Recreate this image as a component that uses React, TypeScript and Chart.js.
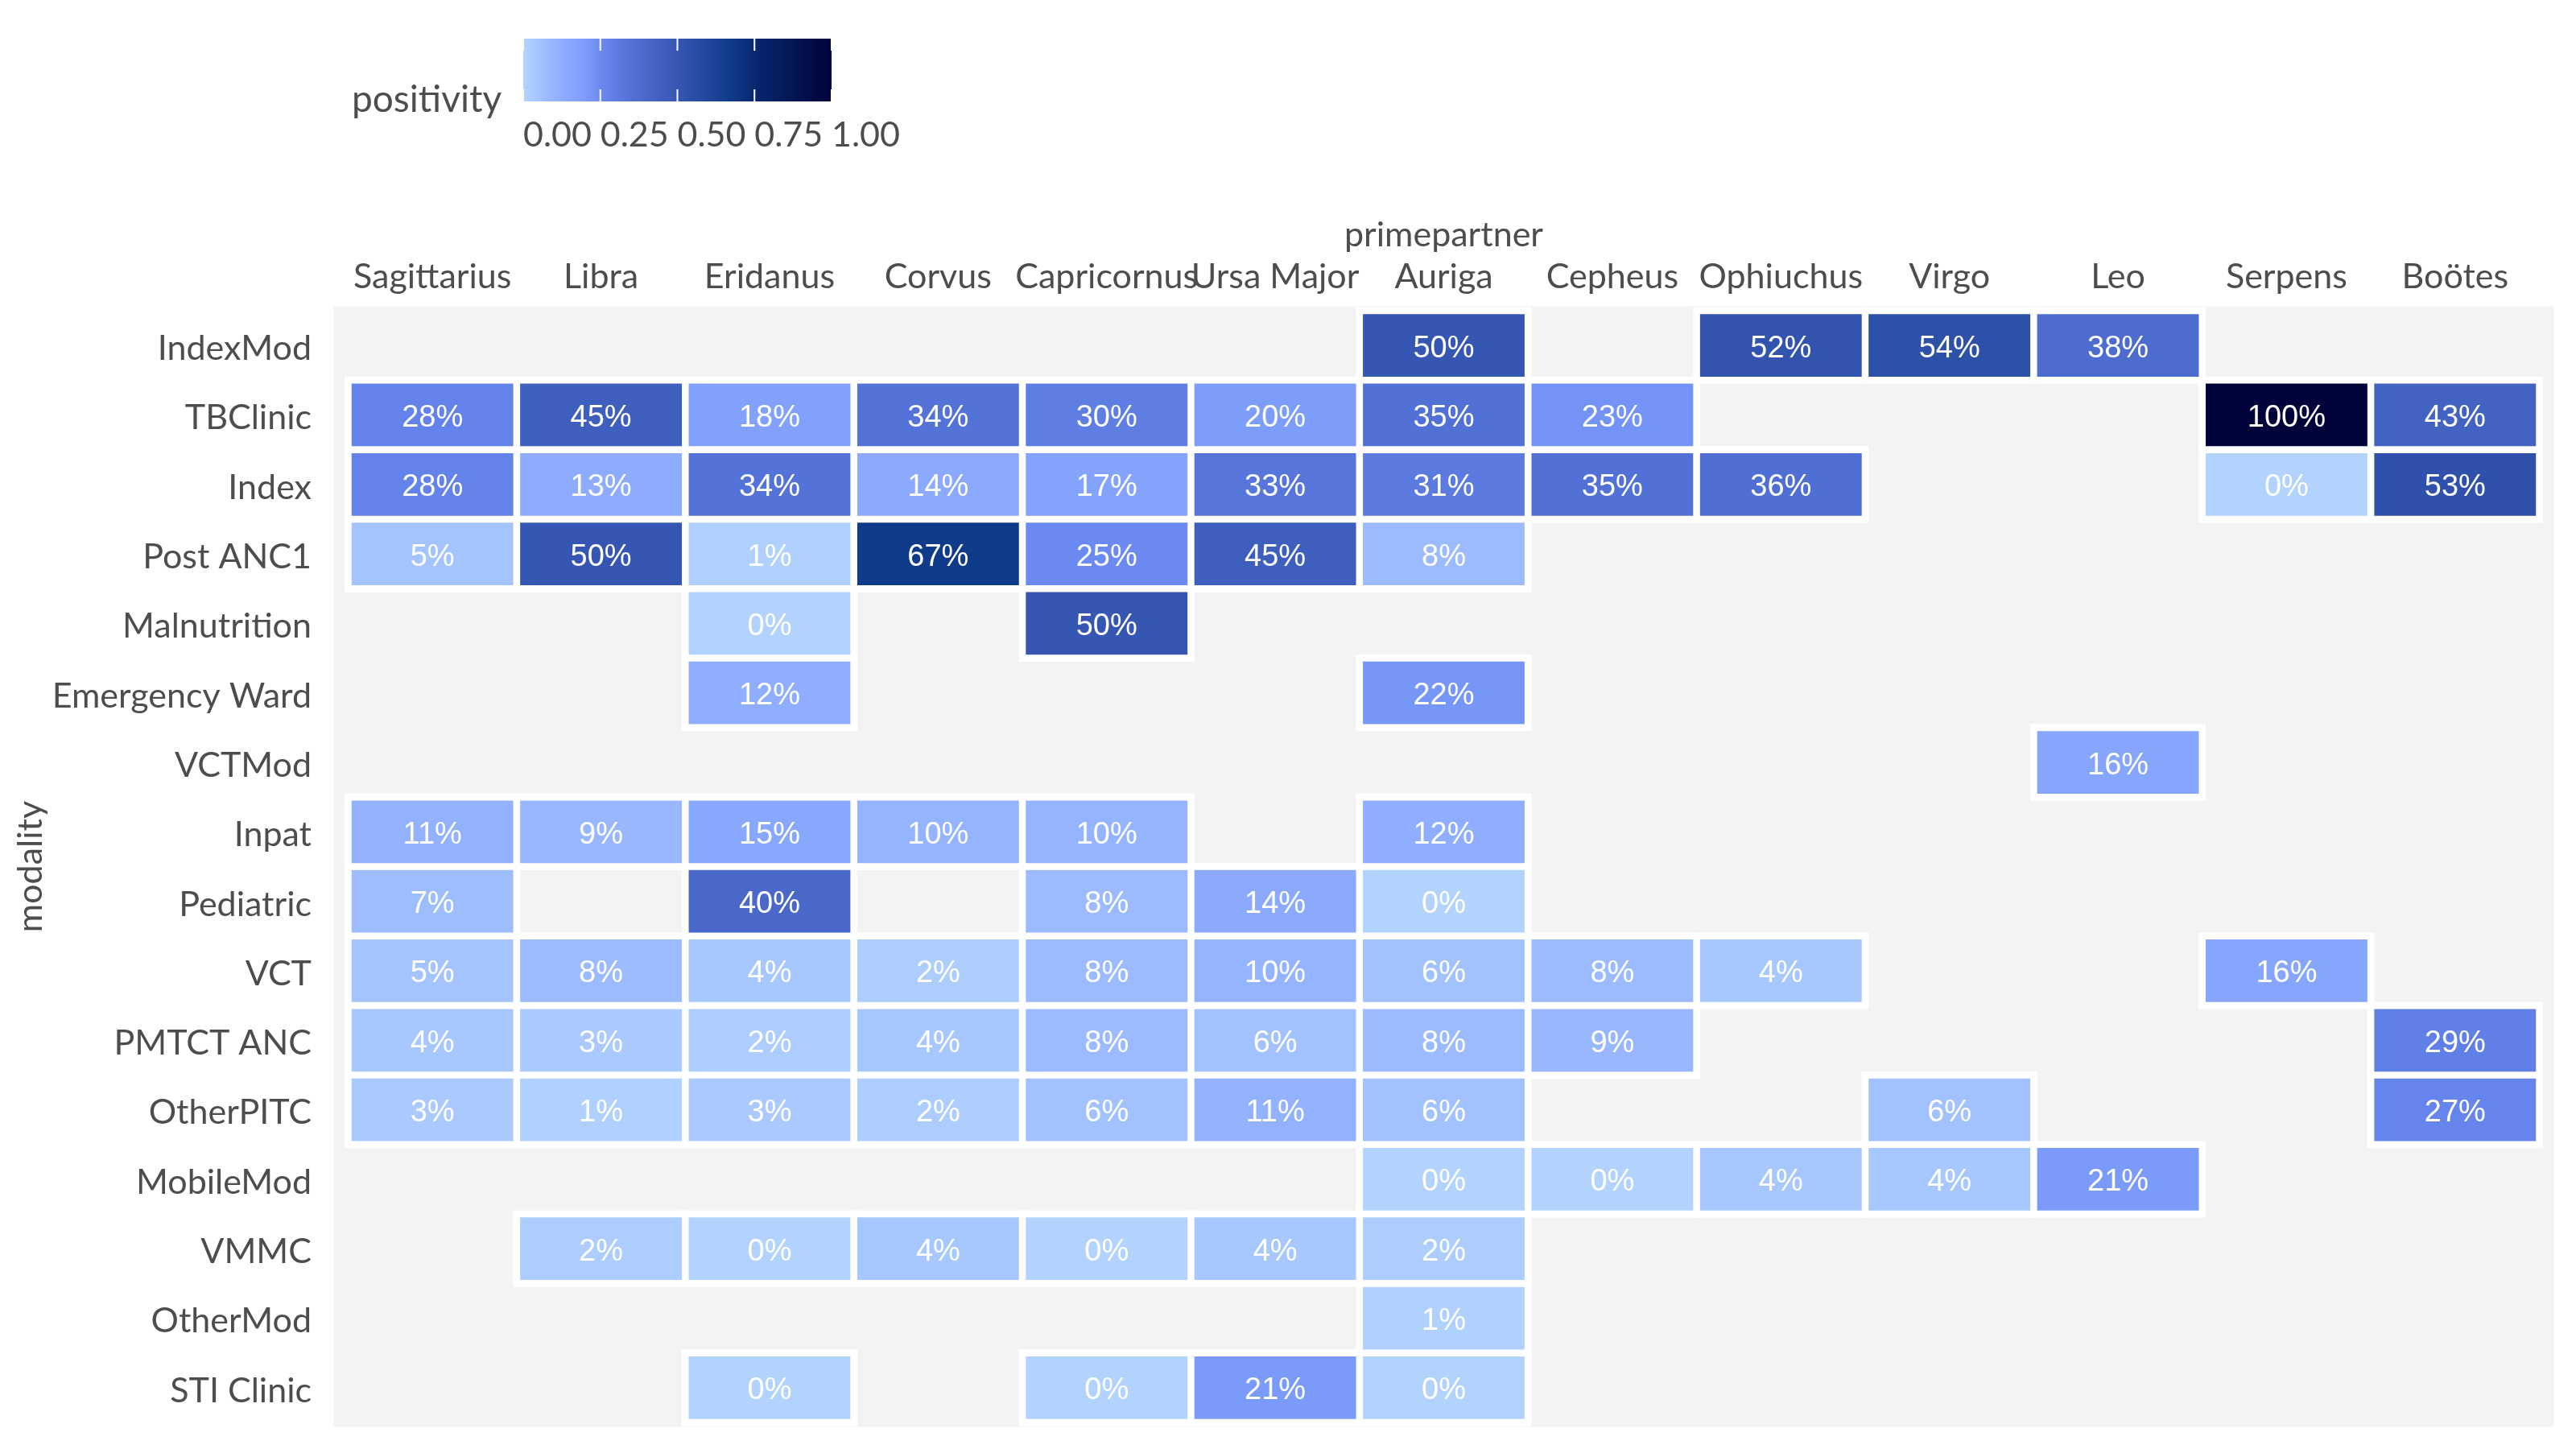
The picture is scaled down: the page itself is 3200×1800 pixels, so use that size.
import React, { useEffect, useRef } from 'react';
import { Chart, registerables } from 'chart.js';

Chart.register(...registerables);

// ---------- data ----------
const modalities = [
  'IndexMod', 'TBClinic', 'Index', 'Post ANC1', 'Malnutrition', 'Emergency Ward', 'VCTMod',
  'Inpat', 'Pediatric', 'VCT', 'PMTCT ANC', 'OtherPITC', 'MobileMod', 'VMMC', 'OtherMod', 'STI Clinic',
];

const partners = [
  'Sagittarius', 'Libra', 'Eridanus', 'Corvus', 'Capricornus', 'Ursa Major', 'Auriga',
  'Cepheus', 'Ophiuchus', 'Virgo', 'Leo', 'Serpens', 'Boötes',
];

// positivity (%) per partner, in modality order
const sagittarius = [null, 28, 28, 5, null, null, null, 11, 7, 5, 4, 3, null, null, null, null];
const libra = [null, 45, 13, 50, null, null, null, 9, null, 8, 3, 1, null, 2, null, null];
const eridanus = [null, 18, 34, 1, 0, 12, null, 15, 40, 4, 2, 3, null, 0, null, 0];
const corvus = [null, 34, 14, 67, null, null, null, 10, null, 2, 4, 2, null, 4, null, null];
const capricornus = [null, 30, 17, 25, 50, null, null, 10, 8, 8, 8, 6, null, 0, null, 0];
const ursaMajor = [null, 20, 33, 45, null, null, null, null, 14, 10, 6, 11, null, 4, null, 21];
const auriga = [50, 35, 31, 8, null, 22, null, 12, 0, 6, 8, 6, 0, 2, 1, 0];
const cepheus = [null, 23, 35, null, null, null, null, null, null, 8, 9, null, 0, null, null, null];
const ophiuchus = [52, null, 36, null, null, null, null, null, null, 4, null, null, 4, null, null, null];
const virgo = [54, null, null, null, null, null, null, null, null, null, null, 6, 4, null, null, null];
const leo = [38, null, null, null, null, null, 16, null, null, null, null, null, 21, null, null, null];
const serpens = [null, 100, 0, null, null, null, null, null, null, 16, null, null, null, null, null, null];
const bootes = [null, 43, 53, null, null, null, null, null, null, null, 29, 27, null, null, null, null];

const partnerValues = [
  sagittarius, libra, eridanus, corvus, capricornus, ursaMajor, auriga,
  cepheus, ophiuchus, virgo, leo, serpens, bootes,
];

const legendTicks = [0, 0.25, 0.5, 0.75, 1];

// ---------- colour scale ----------
const colorStops: [number, number[]][] = [
  [0.0, [179, 211, 255]],
  [0.12, [143, 174, 255]],
  [0.21, [123, 155, 250]],
  [0.25, [106, 138, 242]],
  [0.35, [82, 113, 214]],
  [0.5, [54, 86, 179]],
  [0.67, [16, 59, 138]],
  [0.75, [8, 40, 112]],
  [1.0, [0, 3, 58]],
];

function colorFor(t: number): string {
  const v = Math.max(0, Math.min(1, t));
  for (let i = 1; i < colorStops.length; i++) {
    const [t1, c1] = colorStops[i];
    const [t0, c0] = colorStops[i - 1];
    if (v <= t1) {
      const f = (v - t0) / (t1 - t0);
      const c = c0.map((a, k) => Math.round(a + (c1[k] - a) * f));
      return `rgb(${c[0]},${c[1]},${c[2]})`;
    }
  }
  const c = colorStops[colorStops.length - 1][1];
  return `rgb(${c[0]},${c[1]},${c[2]})`;
}

const AXIS_FONT = 'Lato';
const TEXT_COLOR = '#4d4d4d';

export default function App() {
  const ref = useRef<HTMLCanvasElement | null>(null);

  useEffect(() => {
    const canvas = ref.current;
    if (!canvas) return;

    const datasets = partners.map((p, c) => ({
      label: p,
      data: partnerValues[c]
        .map((v, r) => (v === null ? null : { x: [c, c + 1], y: modalities[r], v }))
        .filter((d) => d !== null),
      backgroundColor: (ctx: any) => colorFor((ctx.raw?.v ?? 0) / 100),
      borderColor: '#ffffff',
      borderWidth: 4.6,
      borderSkipped: false,
      grouped: false,
      barPercentage: 1,
      categoryPercentage: 1,
    }));

    const panelPlugin = {
      id: 'panel',
      beforeDraw(chart: any) {
        const { ctx, chartArea } = chart;
        ctx.save();
        ctx.fillStyle = '#ffffff';
        ctx.fillRect(0, 0, chart.width, chart.height);
        ctx.fillStyle = '#f3f3f3';
        ctx.fillRect(chartArea.left - 18, chartArea.top - 5.5,
          chartArea.right - chartArea.left + 36, chartArea.bottom - chartArea.top + 11);
        ctx.restore();
      },
      beforeDatasetsDraw(chart: any) {
        const { ctx } = chart;
        ctx.save();
        ctx.fillStyle = '#ffffff';
        chart.data.datasets.forEach((_: any, i: number) => {
          const meta = chart.getDatasetMeta(i);
          meta.data.forEach((el: any) => {
            const { x, y, base, height } = el.getProps(['x', 'y', 'base', 'height'], true);
            const l = Math.min(x, base);
            const w = Math.abs(x - base);
            ctx.fillRect(l - 4.5, y - height / 2 - 4.5, w + 9, height + 9);
          });
        });
        ctx.restore();
      },
      afterDatasetsDraw(chart: any) {
        const { ctx } = chart;
        ctx.save();
        ctx.fillStyle = '#ffffff';
        ctx.font = '38px "Liberation Sans", Arial, sans-serif';
        ctx.textAlign = 'center';
        ctx.textBaseline = 'middle';
        chart.data.datasets.forEach((ds: any, i: number) => {
          const meta = chart.getDatasetMeta(i);
          meta.data.forEach((el: any, j: number) => {
            const raw = ds.data[j];
            const { x, y, base } = el.getProps(['x', 'y', 'base'], true);
            ctx.fillText(`${Math.round(raw.v)}%`, (x + base) / 2, y + 4);
          });
        });
        ctx.restore();
      },
      afterDraw(chart: any) {
        const { ctx } = chart;
        const bx = 650, by = 48, bw = 383, bh = 78;
        ctx.save();
        const grad = ctx.createLinearGradient(bx, 0, bx + bw, 0);
        for (let i = 0; i <= 40; i++) {
          grad.addColorStop(i / 40, colorFor(i / 40));
        }
        ctx.fillStyle = grad;
        ctx.fillRect(bx, by, bw, bh);
        ctx.strokeStyle = '#ffffff';
        ctx.lineWidth = 2;
        legendTicks.forEach((t) => {
          const tx = bx + t * bw;
          ctx.beginPath();
          ctx.moveTo(tx, by);
          ctx.lineTo(tx, by + 15);
          ctx.moveTo(tx, by + bh - 15);
          ctx.lineTo(tx, by + bh);
          ctx.stroke();
        });
        ctx.fillStyle = TEXT_COLOR;
        ctx.font = `43px ${AXIS_FONT}`;
        ctx.textAlign = 'left';
        ctx.textBaseline = 'middle';
        legendTicks.forEach((t) => {
          ctx.fillText(t.toFixed(2), bx + t * bw, 168);
        });
        ctx.font = `46px ${AXIS_FONT}`;
        ctx.fillText('positivity', 437, 124);
        ctx.restore();
      },
    };

    const chart = new Chart(canvas, {
      type: 'bar',
      data: { labels: modalities, datasets: datasets as any },
      options: {
        indexAxis: 'y',
        animation: false,
        responsive: false,
        maintainAspectRatio: false,
        layout: { padding: { left: 0, top: 0, right: 45.5, bottom: 33 } },
        plugins: { legend: { display: false }, tooltip: { enabled: false } },
        scales: {
          x: {
            type: 'linear',
            position: 'top',
            min: 0,
            max: partners.length,
            grid: { display: false, drawTicks: false },
            border: { display: false },
            afterBuildTicks: (scale: any) => {
              scale.ticks = partners.map((_, i) => ({ value: i + 0.5 }));
            },
            afterFit: (scale: any) => {
              scale.height = 386;
              scale.paddingLeft = 0;
              scale.paddingRight = 0;
              scale.paddingTop = 0;
              scale.paddingBottom = 0;
            },
            ticks: {
              autoSkip: false,
              maxRotation: 0,
              padding: 16,
              color: TEXT_COLOR,
              font: { family: AXIS_FONT, size: 43 },
              callback: (value: any) => partners[Math.floor(Number(value))],
            },
            title: {
              display: true,
              text: 'primepartner',
              color: TEXT_COLOR,
              font: { family: AXIS_FONT, size: 43 },
              padding: { top: 266, bottom: 0 },
            },
          },
          y: {
            type: 'category',
            offset: true,
            grid: { display: false, drawTicks: false },
            border: { display: false },
            afterFit: (scale: any) => {
              scale.width = 432.5;
              scale.paddingTop = 0;
              scale.paddingBottom = 0;
              scale.paddingLeft = 0;
              scale.paddingRight = 0;
            },
            ticks: {
              autoSkip: false,
              padding: 45.5,
              labelOffset: 4,
              color: TEXT_COLOR,
              font: { family: AXIS_FONT, size: 43 },
            },
            title: {
              display: true,
              text: 'modality',
              color: TEXT_COLOR,
              font: { family: AXIS_FONT, size: 43 },
              padding: { top: 12, bottom: 0 },
            },
          },
        },
      },
      plugins: [panelPlugin],
    });

    return () => chart.destroy();
  }, []);

  return (
    <div style={{ position: 'absolute', left: 0, top: 0, width: 3200, height: 1800 }}>
      <canvas ref={ref} width={3200} height={1800} style={{ width: 3200, height: 1800 }} />
    </div>
  );
}
